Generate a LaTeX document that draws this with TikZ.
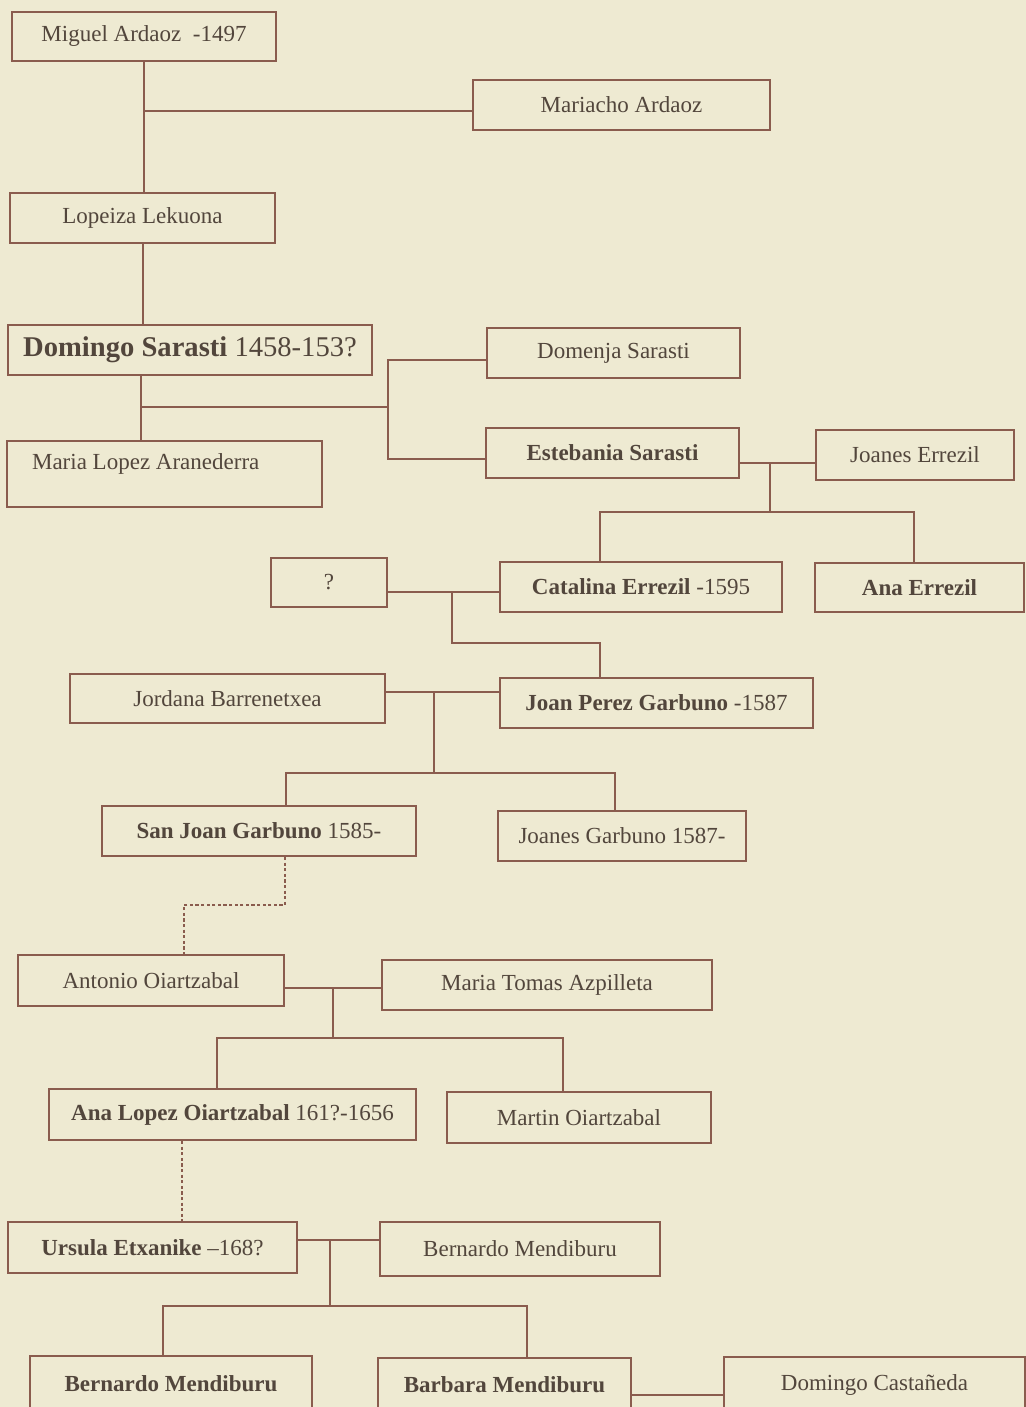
\documentclass[tikz,border=0pt]{standalone}
\usepackage{fontspec}
\setmainfont{Liberation Serif}
\definecolor{bgc}{RGB}{238,234,210}
\definecolor{linec}{RGB}{138,92,78}
\definecolor{textc}{RGB}{82,70,60}
\tikzset{
  box/.style={draw=linec, line width=1pt, inner sep=0pt, text=textc,
              font=\fontsize{11.5}{13}\selectfont},
  sz/.style 2 args={minimum width=#1*0.5pt, minimum height=#2*0.5pt},
  conn/.style={draw=linec, line width=1pt},
  dot/.style={draw=linec, line width=0.8pt, dash pattern=on 1.6pt off 1.2pt}
}
\begin{document}
\begin{tikzpicture}[x=0.5pt,y=-0.5pt]
\useasboundingbox (0,0) rectangle (1026,1407);
\clip (0,0) rectangle (1026,1407);
\fill[bgc] (0,0) rectangle (1026,1407);

% nodes
\node[box, sz={264}{49}] (miguel) at (144,36.5) {Miguel Ardaoz\ \ -1497};
\node[box, sz={297}{50}] (mariacho) at (621.5,105) {Mariacho Ardaoz};
\node[box, sz={265}{50}] (lopeiza) at (142.5,218) {Lopeiza Lekuona};
\node[box, sz={364}{50}, font=\fontsize{14.3}{16}\selectfont] (dom) at (190,350) {\textbf{Domingo Sarasti} 1458-153?};
\node[box, sz={315}{66}, label={[text=textc, font=\fontsize{11.5}{13}\selectfont, anchor=west, xshift=9.5pt, yshift=5pt]west:Maria Lopez Aranederra}] (maria) at (164.5,474) {};
\node[box, sz={253}{50}] (domenja) at (613.5,353) {Domenja Sarasti};
\node[box, sz={253}{50}] (esteb) at (612.5,453) {\textbf{Estebania Sarasti}};
\node[box, sz={198}{50}] (joanes) at (915,455) {Joanes Errezil};
\node[box, sz={116}{49}] (q) at (329,582.5) {?};
\node[box, sz={282}{50}] (catalina) at (641,587) {\textbf{Catalina Errezil} -1595};
\node[box, sz={209}{49}] (anaerr) at (919.5,587.5) {\textbf{Ana Errezil}};
\node[box, sz={315}{49}] (jordana) at (227.5,698.5) {Jordana Barrenetxea};
\node[box, sz={313}{50}] (joanp) at (656.5,703) {\textbf{Joan Perez Garbuno} -1587};
\node[box, sz={314}{50}] (sanjoan) at (259,831) {\textbf{San Joan Garbuno} 1585-};
\node[box, sz={248}{50}] (joanesg) at (622,836) {Joanes Garbuno 1587-};
\node[box, sz={266}{51}] (antonio) at (151,980.5) {Antonio Oiartzabal};
\node[box, sz={330}{50}] (mtomas) at (547,985) {Maria Tomas Azpilleta};
\node[box, sz={367}{51}] (analopez) at (232.5,1114.5) {\textbf{Ana Lopez Oiartzabal} 161?-1656};
\node[box, sz={264}{51}] (martin) at (579,1117.5) {Martin Oiartzabal};
\node[box, sz={289}{51}] (ursula) at (152.5,1247.5) {\textbf{Ursula Etxanike} –168?};
\node[box, sz={280}{54}] (bernardo) at (520,1249) {Bernardo Mendiburu};
\node[box, sz={282}{56}] (bern2) at (171,1384) {\textbf{Bernardo Mendiburu}};
\node[box, sz={253}{54}] (barbara) at (504.5,1385) {\textbf{Barbara Mendiburu}};
\node[box, sz={301}{55}] (castaneda) at (874.5,1384.5) {Domingo Castañeda};

% connectors
\draw[conn] (miguel.south) -- (miguel.south |- lopeiza.north);
\coordinate (c1) at (144,111);
\draw[conn] (c1) -- (c1 -| mariacho.west);
\draw[conn] (lopeiza.south) -- (lopeiza.south |- dom.north);

\coordinate (c2) at (141,407);
\coordinate (c3) at (388,407);
\draw[conn] (c2 |- dom.south) -- (c2 |- maria.north);
\draw[conn] (c2) -- (c3);
\coordinate (c4) at (388,360);
\coordinate (c5) at (388,459);
\draw[conn] (c4 -| domenja.west) -- (c4) -- (c5) -- (c5 -| esteb.west);

\coordinate (c6) at (770,463);
\coordinate (c7) at (770,512);
\draw[conn] (c6 -| esteb.east) -- (c6 -| joanes.west);
\draw[conn] (c6) -- (c7);
\coordinate (c8) at (600,512);
\coordinate (c9) at (914,512);
\draw[conn] (c8 |- catalina.north) -- (c8) -- (c9) -- (c9 |- anaerr.north);

\coordinate (c10) at (452,592);
\coordinate (c11) at (452,643);
\coordinate (c12) at (600,643);
\draw[conn] (c10 -| q.east) -- (c10 -| catalina.west);
\draw[conn] (c10) -- (c11) -- (c12) -- (c12 |- joanp.north);

\coordinate (c13) at (434,692);
\coordinate (c14) at (434,773);
\draw[conn] (c13 -| jordana.east) -- (c13 -| joanp.west);
\draw[conn] (c13) -- (c14);
\coordinate (c15) at (286,773);
\coordinate (c16) at (615,773);
\draw[conn] (c15 |- sanjoan.north) -- (c15) -- (c16) -- (c16 |- joanesg.north);

\coordinate (c17) at (285,905);
\coordinate (c18) at (184,905);
\draw[dot] (c17 |- sanjoan.south) -- (c17) -- (c18) -- (c18 |- antonio.north);

\coordinate (c19) at (333,988);
\coordinate (c20) at (333,1038);
\draw[conn] (c19 -| antonio.east) -- (c19 -| mtomas.west);
\draw[conn] (c19) -- (c20);
\coordinate (c21) at (217,1038);
\coordinate (c22) at (563,1038);
\draw[conn] (c21 |- analopez.north) -- (c21) -- (c22) -- (c22 |- martin.north);

\coordinate (c23) at (182,1180);
\draw[dot] (c23 |- analopez.south) -- (c23 |- ursula.north);

\coordinate (c24) at (330,1240);
\coordinate (c25) at (330,1306);
\draw[conn] (c24 -| ursula.east) -- (c24 -| bernardo.west);
\draw[conn] (c24) -- (c25);
\coordinate (c26) at (163,1306);
\coordinate (c27) at (527,1306);
\draw[conn] (c26 |- bern2.north) -- (c26) -- (c27) -- (c27 |- barbara.north);

\coordinate (c28) at (680,1395);
\draw[conn] (c28 -| barbara.east) -- (c28 -| castaneda.west);
\end{tikzpicture}
\end{document}
